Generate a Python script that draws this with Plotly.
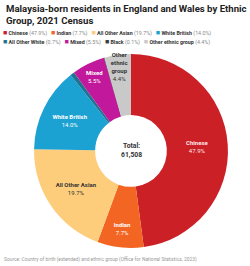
import plotly.graph_objects as go

# ---- data ----
groups = ["Chinese", "Indian", "All Other Asian", "White British",
          "All Other White", "Mixed", "Black", "Other ethnic group"]
inside_names = ["Chinese", "Indian", "All Other Asian", "White British",
                "", "Mixed", "", "Other<br>ethnic<br>group"]
percent = [47.9, 7.7, 19.7, 14.0, 0.7, 5.5, 0.1, 4.4]
colors = ["#cc2027", "#f26522", "#fdcd7c", "#1ba1d2",
          "#1e7391", "#c2189b", "#3c3c3c", "#c9c9c9"]
text_colors = ["#fde8e8", "#ffffff", "#333333", "#ffffff",
               "#ffffff", "#ffffff", "#ffffff", "#333333"]
total = "61,508"
title = "Malaysia-born residents in England and Wales by Ethnic<br>Group, 2021 Census"
source = "Source: Country of birth (extended) and ethnic group (Office for National Statistics, 2023)"
legend_rows = [[0, 1, 2, 3], [4, 5, 6, 7]]

FONT = "Roboto"

slice_text = [f"<b>{n}</b><br>{p:.1f}%" if n else "" for n, p in zip(inside_names, percent)]

fig = go.Figure(go.Pie(
    labels=groups,
    values=percent,
    text=slice_text,
    texttemplate="%{text}",
    textposition="inside",
    insidetextorientation="horizontal",
    textfont=dict(family=FONT, size=6, color=text_colors),
    marker=dict(colors=colors, line=dict(width=0)),
    hole=0.37,
    sort=False,
    direction="clockwise",
    rotation=0,
    showlegend=False,
    hoverinfo="skip",
    domain=dict(x=[0.136, 0.912], y=[0.068, 0.797]),
))

annotations = []
annotations.append(dict(
    text=f"<b>{title}</b>", x=0.015, y=0.995, xref="paper", yref="paper",
    xanchor="left", yanchor="top", align="left", showarrow=False,
    font=dict(family=FONT, size=9.6, color="#222222")))

row_y = [0.876, 0.843]
for r, idxs in enumerate(legend_rows):
    parts = []
    for i in idxs:
        parts.append(
            f"<span style='color:{colors[i]};font-size:7px'>■</span>"
            f"\u00a0<b>{groups[i]}</b>\u00a0<span style='color:#888888'>({percent[i]:.1f}%)</span>")
    annotations.append(dict(
        text="\u00a0\u00a0\u00a0".join(parts), x=0.005, y=row_y[r], xref="paper", yref="paper",
        xanchor="left", yanchor="middle", align="left", showarrow=False,
        font=dict(family=FONT, size=5.3, color="#333333")))

annotations.append(dict(
    text=f"<b>Total:<br>{total}</b>", x=0.524, y=0.4325, xref="paper", yref="paper",
    xanchor="center", yanchor="middle", showarrow=False,
    font=dict(family=FONT, size=6.8, color="#333333")))

annotations.append(dict(
    text=source, x=0.008, y=0.026, xref="paper", yref="paper",
    xanchor="left", yanchor="middle", showarrow=False,
    font=dict(family=FONT, size=4.9, color="#999999")))

fig.update_layout(
    width=250, height=266, autosize=False,
    margin=dict(l=0, r=0, t=0, b=0),
    paper_bgcolor="white", plot_bgcolor="white",
    annotations=annotations,
    uniformtext=dict(minsize=6, mode="show"),
)

fig.write_html("out.html")
